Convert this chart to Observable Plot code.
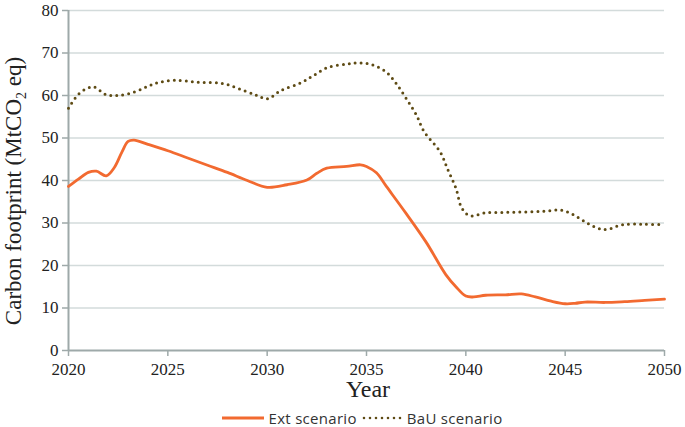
<!DOCTYPE html>
<html>
<head>
<meta charset="utf-8">
<script src="https://cdn.jsdelivr.net/npm/d3@7"></script>
<script src="https://cdn.jsdelivr.net/npm/@observablehq/plot@0.6"></script>
<style>
  html, body { margin: 0; padding: 0; background: #fff; }
  #chart { width: 685px; height: 402px; }
  #legend { width: 685px; height: 25px; display: flex; justify-content: center; align-items: center;
            font-family: "Open Sans", "DejaVu Sans", sans-serif; font-size: 15px; line-height: 16px; letter-spacing: 0.3px; color: #333; padding-top: 7px; box-sizing: border-box; margin-left: 19px; }
  .item { display: flex; align-items: center; margin: 0 2px; line-height: 16px; }
  .item svg { margin-right: 4px; }
</style>
</head>
<body>
<div id="chart"></div>
<div id="legend"></div>
<script>
const seriesNames = ["Ext scenario", "BaU scenario"];
const extYears = [2020, 2020.5, 2021, 2021.4, 2021.9, 2022.3, 2022.7, 2023, 2023.3, 2024, 2025, 2026, 2027, 2028, 2029, 2030, 2031, 2032, 2032.5, 2033, 2034, 2034.7, 2035, 2035.5, 2036, 2037, 2038, 2039, 2039.5, 2040, 2040.4, 2041, 2042, 2042.8, 2043.5, 2044.3, 2045, 2045.5, 2046, 2047, 2048, 2049, 2050];
const extValues = [38.6, 40.3, 41.9, 42.2, 41.1, 43.0, 46.8, 49.2, 49.5, 48.5, 47.0, 45.3, 43.6, 41.9, 40.0, 38.4, 39.0, 40.1, 41.7, 42.9, 43.3, 43.7, 43.3, 41.8, 38.6, 32.2, 25.5, 17.8, 15.0, 12.8, 12.6, 13.0, 13.1, 13.3, 12.6, 11.6, 11.0, 11.1, 11.4, 11.3, 11.5, 11.8, 12.1];
const bauYears = [2020, 2020.5, 2021, 2021.3, 2021.9, 2022.5, 2023.3, 2024, 2024.5, 2025.3, 2026.5, 2027.8, 2028.8, 2029.5, 2030, 2030.7, 2031.7, 2032.3, 2033, 2034, 2034.6, 2035.3, 2036, 2036.5, 2037, 2037.5, 2037.9, 2038.7, 2039.1, 2039.5, 2039.8, 2040.2, 2041, 2042, 2043, 2044, 2044.8, 2045.4, 2046.1, 2046.7, 2047.1, 2047.9, 2049, 2050];
const bauValues = [57.0, 60.3, 61.8, 62.0, 60.2, 60.0, 60.8, 62.2, 63.0, 63.6, 63.1, 62.8, 61.2, 60.0, 59.2, 61.2, 63.0, 64.6, 66.5, 67.4, 67.7, 67.2, 65.5, 62.8, 59.3, 55.5, 51.5, 46.8, 42.5, 38.2, 33.5, 31.7, 32.4, 32.5, 32.6, 32.8, 33.0, 32.0, 30.0, 28.7, 28.5, 29.6, 29.7, 29.6];
const xTicks = [2020, 2025, 2030, 2035, 2040, 2045, 2050];
const yTicks = [0, 10, 20, 30, 40, 50, 60, 70, 80];

const ext = extYears.map((y, i) => ({year: y, value: extValues[i]}));
const bau = bauYears.map((y, i) => ({year: y, value: bauValues[i]}));

const orange = "#f26a30";
const brown = "#5e4b14";
const axisGray = "#9ea9a9";
const serif = "Liberation Serif";

const plot = Plot.plot({
  width: 685,
  height: 402,
  marginLeft: 68,
  marginRight: 21,
  marginTop: 10,
  marginBottom: 52,
  style: {fontFamily: serif, fontSize: "17px", color: axisGray, background: "#fff"},
  x: {domain: [2020, 2050], label: null},
  y: {domain: [0, 80], label: null},
  marks: [
    Plot.gridY(yTicks.filter(d => d > 0), {stroke: "#d3dbdb", strokeOpacity: 1, strokeWidth: 1.5}),
    Plot.axisX({ticks: xTicks, tickFormat: "d", tickSize: 6, tickPadding: 6, fontSize: 17, fontFamily: serif, fontVariant: "normal", fill: "#222", label: null}),
    Plot.axisY({ticks: yTicks, tickSize: 6, tickPadding: 4, fontSize: 17, fontFamily: serif, fontVariant: "normal", fill: "#222", label: null}),
    Plot.ruleX([2020], {stroke: axisGray, strokeWidth: 2}),
    Plot.ruleY([0], {stroke: axisGray, strokeWidth: 2}),
    Plot.line(bau, {x: "year", y: "value", stroke: brown, strokeWidth: 3, strokeDasharray: "0 6", strokeLinecap: "round", curve: "catmull-rom"}),
    Plot.line(ext, {x: "year", y: "value", stroke: orange, strokeWidth: 2.8, curve: "catmull-rom"})
  ]
});

const svg = d3.select(plot);
svg.selectAll("g[aria-label$='tick'] path").attr("stroke-width", 1.5);
// Y axis title with subscript
const yt = svg.append("text")
  .attr("transform", "translate(21,191) rotate(-90)")
  .attr("text-anchor", "middle")
  .attr("font-family", serif)
  .attr("font-size", 23)
  .attr("fill", "#222");
yt.append("tspan").text("Carbon footprint (MtCO");
yt.append("tspan").attr("font-size", 14).attr("dy", 5).text("2");
yt.append("tspan").attr("dy", -5).text(" eq)");
// X axis title
svg.append("text")
  .attr("x", 368).attr("y", 397)
  .attr("text-anchor", "middle")
  .attr("font-family", serif)
  .attr("font-size", 24)
  .attr("fill", "#222")
  .text("Year");

document.getElementById("chart").appendChild(plot);

const legend = document.getElementById("legend");
legend.innerHTML = `
  <span class="item"><svg width="44" height="8"><line x1="1" y1="4" x2="43" y2="4" stroke="${orange}" stroke-width="3"/></svg>${seriesNames[0]}</span>
  <span class="item"><svg width="42" height="8"><line x1="3" y1="4" x2="40" y2="4" stroke="${brown}" stroke-width="2.6" stroke-dasharray="0 6" stroke-linecap="round"/></svg>${seriesNames[1]}</span>`;
</script>
</body>
</html>
